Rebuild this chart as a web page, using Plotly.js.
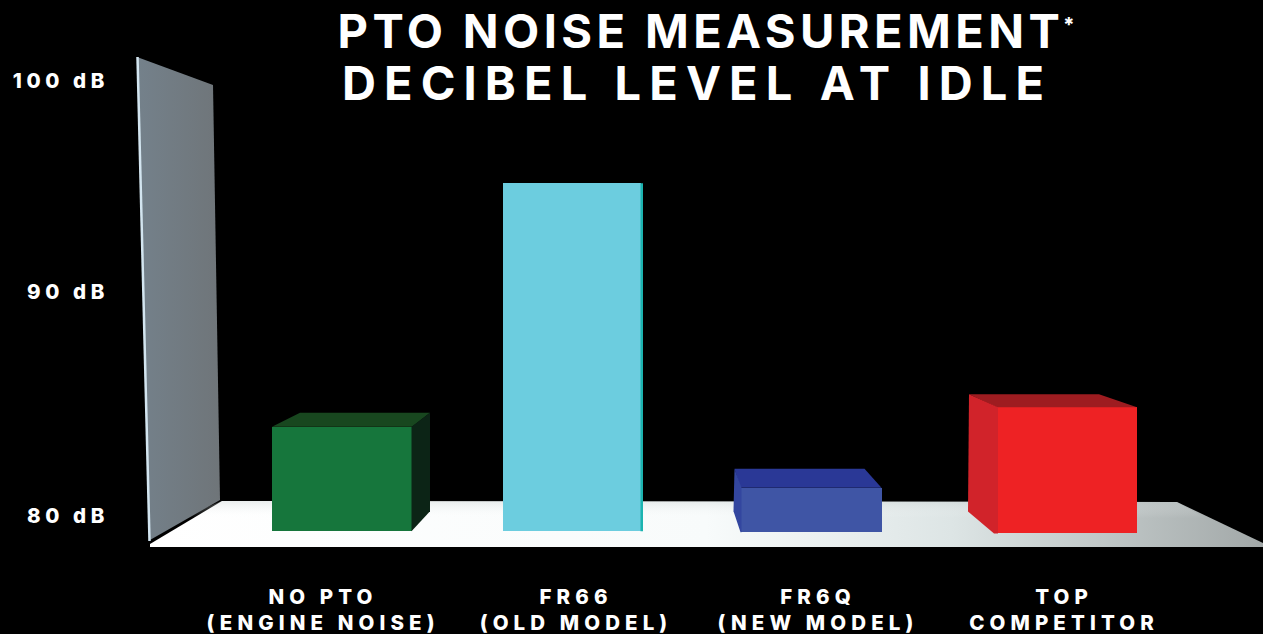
<!DOCTYPE html>
<html><head><meta charset="utf-8">
<script src="https://cdn.plot.ly/plotly-3.0.1.min.js"></script>
<style>
html,body{margin:0;padding:0;background:#000;overflow:hidden}
#chart{width:1263px;height:634px}
.gtitle{letter-spacing:4.4px}
.annotation-text{letter-spacing:8.1px}
.xtick text{letter-spacing:5.1px}
.ytick text{letter-spacing:4.6px}
</style></head><body><div id="chart"></div>
<script>
// data
const categories = ['NO PTO<br>(ENGINE NOISE)','FR66<br>(OLD MODEL)','FR6Q<br>(NEW MODEL)','TOP<br>COMPETITOR'];
const decibels = [84.1, 95.3, 81.3, 85.0];
const baselines = [79.3, 79.3, 79.25, 79.2];
const yTickVals = [80, 90.3, 100];
const yTickText = ['80 dB','90 dB','100 dB'];

// layout of the drawing
const barCenters = [342, 572, 811, 1067];
const barWidths = [140, 138, 141, 140];
const labelCenters = [323, 576, 818, 1064];
const frontColors = ['#16763c','#6ccddf','#3f55a5','#ee2224'];
const topColors = ['#18471f','#6ccddf','#2a3896','#9e1c20'];
const sideColors = ['#0c2416','#1cb4b0','#33469f','#d1232a'];
const backLeft = [28, 0, -6, -28];
const backRight = [18, 2, -17, -38];
const backUp = [14, 0, 19, 13];
const sideDrop = [20, 0, 21, 22];
const sideFoot = [0, 0, 0, -3];
const sideOnRight = [true, true, false, false];

const pxPerDb = 21.75;
const yAt = px => 80 + (516 - px) / pxPerDb;
const up = px => px / pxPerDb;

const poly = (xs, ys, color, xa, ya) => ({type:'scatter', mode:'none', x:xs, y:ys, fill:'toself', fillcolor:color,
  hoverinfo:'skip', showlegend:false, xaxis:xa||'x2', yaxis:ya||'y2'});

const floor = poly([150,222,1177,1263,1263,150], [544,501,502,543,547,547].map(yAt), '#fff', 'x','y');
floor.fillgradient = {type:'horizontal', start:150, stop:1263,
  colorscale:[[0,'#ffffff'],[0.5,'#f8fbfb'],[0.72,'#dde5e5'],[1,'#a2a8a8']]};
const floorBack = poly([222,1177,1205,180], [501,502,518,518].map(yAt), '#fff','x','y');
floorBack.fillgradient = {type:'vertical', start:yAt(501), stop:yAt(518),
  colorscale:[[0,'rgba(195,205,205,0.35)'],[1,'rgba(255,255,255,0)']]};
const wall = poly([137,213,220,150], [57,85,500,540].map(yAt), '#78848c','x','y');
wall.fillgradient = {type:'horizontal', start:137, stop:220,
  colorscale:[[0,'#74818b'],[1,'#6f7579']]};
const wallEdge = {type:'scatter', mode:'lines', x:[137.5,149.5], y:[57,541].map(yAt),
  line:{color:'#d3e5f0', width:2.5}, hoverinfo:'skip', showlegend:false, xaxis:'x', yaxis:'y'};

const faces = [];
categories.forEach((c,i)=>{
  const L = barCenters[i]-barWidths[i]/2, R = barCenters[i]+barWidths[i]/2, T = decibels[i], B = baselines[i];
  const bl = L+backLeft[i], br = R+backRight[i], T2 = T+up(backUp[i]);
  if (backUp[i] > 0) faces.push(poly([L,bl,br,R],[T,T2,T2,T],topColors[i]));
  const bot = B + up(sideDrop[i]);
  if (sideOnRight[i]) faces.push(poly([R-0.5,br,br,R-0.5],[T,T2,bot,B],sideColors[i]));
  else faces.push(poly([L+1,bl,bl-1,L+sideFoot[i],L+1],[T,T2,bot,B,B],sideColors[i]));
});

const bars = {type:'bar', x:barCenters, width:barWidths, y:decibels.map((v,i)=>v-baselines[i]), base:baselines,
  text:categories, hoverinfo:'text+y', textposition:'none',
  marker:{color:frontColors, line:{width:0}}, xaxis:'x2', yaxis:'y2', showlegend:false};

const xr = [110,1263], yr = [yAt(580), yAt(0)];
const font = {family:'Inter, "Open Sans", sans-serif', color:'#ffffff', weight:800};
const headFont = {...font, size:47, weight:700};
Plotly.newPlot('chart',[floor,floorBack,wall,wallEdge,bars,...faces],{
  width:1263,height:634,
  paper_bgcolor:'#000',plot_bgcolor:'#000',
  margin:{l:110,r:0,t:0,b:54,pad:0},
  showlegend:false,
  title:{text:'PTO NOISE MEASUREMENT',
    font:headFont, x:0.5125, xanchor:'center', xref:'paper', y:0.95, yanchor:'middle', yref:'container'},
  annotations:[
    {text:'DECIBEL LEVEL AT IDLE', xref:'x', yref:'y', x:697, y:yAt(82), showarrow:false,
     xanchor:'center', yanchor:'middle', font:headFont},
    {text:'*', xref:'x', yref:'y', x:1073, y:yAt(25), showarrow:false,
     xanchor:'center', yanchor:'middle', font:{...font,size:20}}],
  xaxis:{range:xr, tickmode:'array', tickvals:labelCenters, ticktext:categories, showgrid:false, zeroline:false,
    showline:false, ticks:'', tickfont:{...font,size:20.5}, automargin:false, ticklabelstandoff:2},
  yaxis:{range:yr, tickmode:'array', tickvals:yTickVals, ticktext:yTickText, showgrid:false, zeroline:false,
    showline:false, ticks:'', tickfont:{...font,size:20.5}, automargin:false, ticklabelstandoff:0},
  xaxis2:{range:xr, overlaying:'x', anchor:'y2', visible:false},
  yaxis2:{range:yr, overlaying:'y', anchor:'x2', visible:false},
  bargap:0, hovermode:'closest'
},{displayModeBar:false,responsive:false});
</script></body></html>
